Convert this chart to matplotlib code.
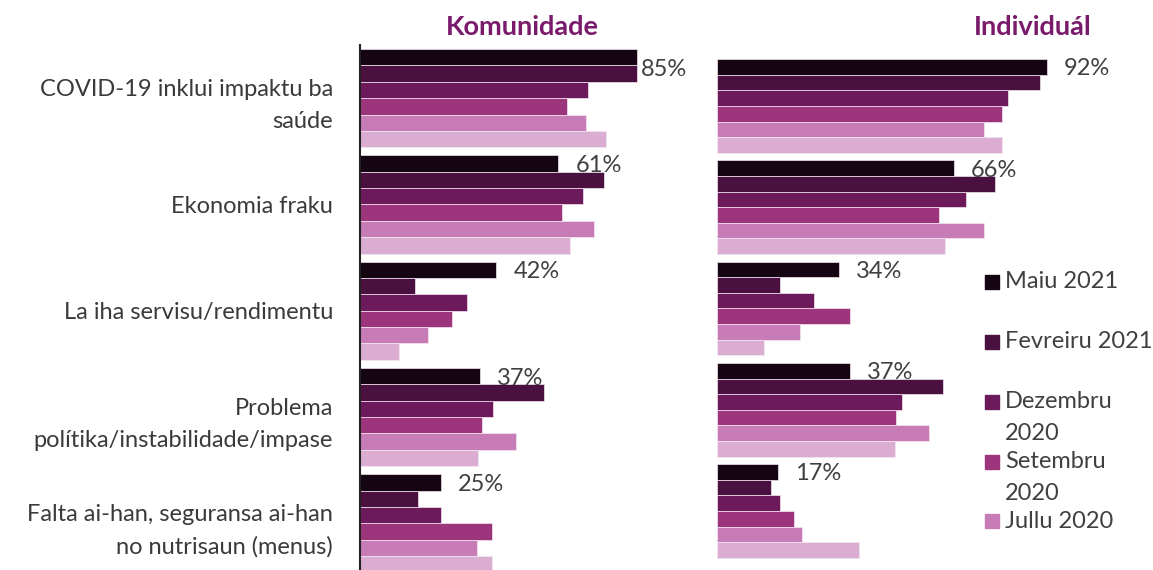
import numpy as np
import matplotlib
matplotlib.use("Agg")
import matplotlib.pyplot as plt
from matplotlib.patches import Rectangle

# fonts
plt.rcParams["font.family"] = ["Lato", "DejaVu Sans"]

# data
categories = [
    "COVID-19 inklui impaktu ba\nsaúde",
    "Ekonomia fraku",
    "La iha servisu/rendimentu",
    "Problema\npolítika/instabilidade/impase",
    "Falta ai-han, seguransa ai-han\nno nutrisaun (menus)",
]
series = ["Maiu 2021", "Fevreiru 2021", "Dezembru 2020", "Setembru 2020", "Jullu 2020", "Abril 2020"]
legend_labels = ["Maiu 2021", "Fevreiru 2021", "Dezembru\n2020", "Setembru\n2020", "Jullu 2020"]
colors = ["#150412", "#4a1140", "#6d1a5d", "#9c357c", "#c77cb8", "#dcadd3"]

kom_maiu21 = [85, 61, 42, 37, 25]
kom_fev21 = [85, 75, 17, 56.5, 18]
kom_dez20 = [70, 68.5, 33, 41, 25]
kom_set20 = [63.5, 62, 28.5, 37.5, 40.5]
kom_jul20 = [69.5, 72, 21, 48, 36]
kom_abr20 = [75.5, 64.5, 12, 36.5, 40.5]

ind_maiu21 = [92, 66, 34, 37, 17]
ind_fev21 = [90, 77.5, 17.5, 63, 15]
ind_dez20 = [81, 69.5, 27, 51.5, 17.5]
ind_set20 = [79.5, 62, 37, 50, 21.5]
ind_jul20 = [74.5, 74.5, 23, 59, 23.5]
ind_abr20 = [79.5, 63.5, 13, 49.5, 39.5]

komunidade = [kom_maiu21, kom_fev21, kom_dez20, kom_set20, kom_jul20, kom_abr20]
individual = [ind_maiu21, ind_fev21, ind_dez20, ind_set20, ind_jul20, ind_abr20]

W, H = 1153, 570
fig = plt.figure(figsize=(W / 100, H / 100), dpi=100)

bar_h = 0.154
n = len(series)
y = np.arange(len(categories))
label_color = "#404040"
title_color = "#7a1a6b"
fs = 17


def draw_panel(ax, values, xmax, ylim, px_per_unit):
    for k, vals in enumerate(values):
        offs = (k - (n - 1) / 2) * bar_h
        ax.barh(y + offs, vals, height=bar_h, color=colors[k],
                edgecolor="#f3e6f0", linewidth=0.5)
    ax.set_xlim(0, xmax)
    ax.set_ylim(*ylim)
    ax.set_xticks([])
    # percentage labels for the latest round
    top = (0 - (n - 1) / 2) * bar_h
    gap = 17 / px_per_unit
    lab_w = 45 / px_per_unit
    for i, v in enumerate(values[0]):
        xx = v + gap
        yy = y[i] + top + 2 / 106
        if xx + lab_w > xmax:
            xx = xmax - lab_w
            yy += 10 / 106
        ax.text(xx, yy, f"{v:.0f}%", ha="left", va="center", fontsize=fs,
                color=label_color, clip_on=False)


# left panel: Komunidade
axL = fig.add_axes([359.5 / W, 0, 326 / W, 525 / H])
draw_panel(axL, komunidade, 100, (4.44, -0.5), 3.26)
for s in ["top", "right", "bottom"]:
    axL.spines[s].set_visible(False)
axL.spines["left"].set_linewidth(1.5)
axL.spines["left"].set_color("#222222")
axL.set_yticks(y)
axL.set_yticklabels(categories, fontsize=fs, color="#3a3a3a", linespacing=1.65)
axL.tick_params(axis="y", length=0, pad=19)

# right panel: Individuál
axR = fig.add_axes([717.3 / W, 0, 430 / W, 520 / H])
draw_panel(axR, individual, 120, (4.583, -0.553), 3.58)
for s in axR.spines.values():
    s.set_visible(False)
axR.set_yticks([])

fig.text(522 / W, 1 - 27 / H, "Komunidade", ha="center", va="center",
         fontsize=19.5, fontweight="bold", color=title_color)
fig.text(1033 / W, 1 - 27 / H, "Individuál", ha="center", va="center",
         fontsize=19.5, fontweight="bold", color=title_color)

# legend (first five rounds)
leg_y = [282, 342, 402, 462, 521]
for k, lab in enumerate(legend_labels):
    yc = leg_y[k]
    fig.patches.append(Rectangle((985 / W, 1 - (yc + 7) / H), 14 / W, 14 / H,
                                 transform=fig.transFigure, color=colors[k]))
    for j, line in enumerate(lab.split("\n")):
        fig.text(1005 / W, 1 - (yc + 32 * j) / H, line, ha="left", va="center",
                 fontsize=fs, color=label_color)

fig.savefig("out.png", dpi=100)
